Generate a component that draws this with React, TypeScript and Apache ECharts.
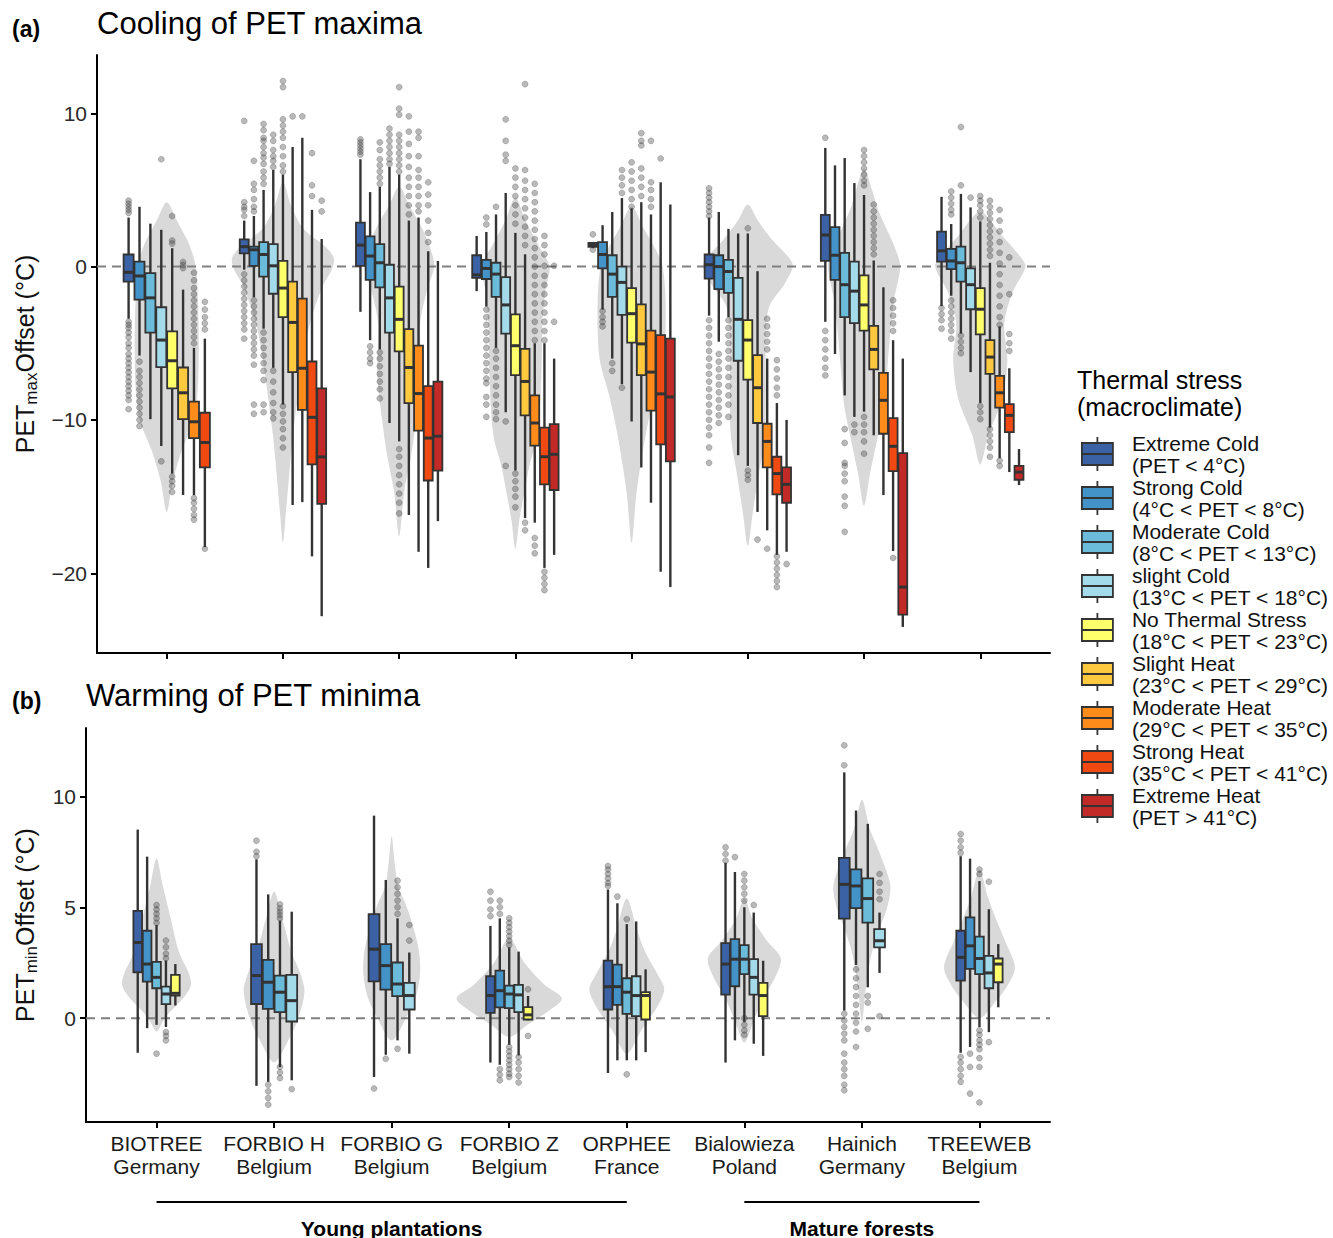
import React, { useEffect, useRef } from 'react';
import * as echarts from 'echarts';

const FONT = 'Liberation Sans, Arial, Helvetica, sans-serif';

const SITES = ['BIOTREE', 'FORBIO H', 'FORBIO G', 'FORBIO Z', 'ORPHEE', 'Bialowieza', 'Hainich', 'TREEWEB'];
const COUNTRIES = ['Germany', 'Belgium', 'Belgium', 'Belgium', 'France', 'Poland', 'Germany', 'Belgium'];
const CLASSES = ['Extreme Cold', 'Strong Cold', 'Moderate Cold', 'slight Cold', 'No Thermal Stress', 'Slight Heat', 'Moderate Heat', 'Strong Heat', 'Extreme Heat'];
const CLASS_RANGES = ['(PET < 4°C)', '(4°C < PET < 8°C)', '(8°C < PET < 13°C)', '(13°C < PET < 18°C)', '(18°C < PET < 23°C)', '(23°C < PET < 29°C)', '(29°C < PET < 35°C)', '(35°C < PET < 41°C)', '(PET > 41°C)'];
const CLASS_COLORS = ['#3a62a5', '#4393c8', '#6bbcda', '#a3dbea', '#ffff6b', '#fec93f', '#ff8b1a', '#f04912', '#c22a27'];
const Y_TICKS_A = [-20, -10, 0, 10];
const Y_TICKS_B = [0, 5, 10];
const X_TICKS = [0, 1, 2, 3, 4, 5, 6, 7];

// ---- Panel (a): PET max offset, box stats [whiskerLow, Q1, median, Q3, whiskerHigh] per class ----
const maxBIOTREE = [[-3.4, -0.98, -0.37, 0.79, 3.2], [-5.8, -2.16, -0.61, 0.32, 3.9], [-9.95, -4.3, -2.04, -0.42, 2.8], [-11.7, -6.56, -4.79, -2.65, 2.4], [-13.5, -7.94, -6.14, -4.23, 1.2], [-14.9, -9.95, -8.23, -6.58, -1.5], [-14.9, -11.18, -10.12, -8.8, -5.3], [-18.3, -13.1, -11.47, -9.53, -4.7], null];
const maxFORBIOH = [[-0.2, 0.86, 1.3, 1.77, 3.0], [-2.0, 0.05, 1.1, 1.3, 3.3], [-4.05, -0.66, 0.79, 1.6, 5.0], [-6.6, -1.77, 0.05, 1.47, 6.3], [-9.0, -3.3, -1.4, 0.37, 6.0], [-15.55, -6.88, -3.64, -0.98, 7.8], [-15.36, -9.34, -6.63, -2.09, 8.4], [-18.9, -12.9, -9.83, -6.19, 3.7], [-22.8, -15.48, -12.41, -7.94, 1.8]];
const maxFORBIOG = [[-2.95, 0.05, 1.4, 2.87, 7.0], [-4.8, -0.86, 0.69, 1.97, 4.86], [-5.4, -1.35, 0.25, 1.47, 5.2], [-10.2, -4.3, -2.04, 0.12, 6.5], [-11.4, -5.53, -3.44, -1.3, 6.0], [-16.2, -8.9, -6.58, -4.08, 3.0], [-18.6, -10.7, -8.28, -5.16, 3.2], [-19.65, -13.95, -11.18, -7.79, 1.0], [-16.6, -13.3, -11.06, -7.5, 0.37]];
const maxFORBIOZ = [[-1.6, -0.74, -0.54, 0.74, 2.0], [-2.6, -0.81, -0.12, 0.44, 2.26], [-5.3, -1.97, -0.49, 0.25, 3.4], [-9.5, -4.37, -2.5, -0.69, 4.8], [-13.3, -7.08, -5.16, -3.12, 2.2], [-16.4, -9.7, -7.49, -5.36, 0.8], [-16.7, -11.67, -10.2, -8.4, -5.0], [-19.65, -14.2, -12.4, -10.5, -5.0], [-18.8, -14.57, -12.24, -10.27, -6.0]];
const maxORPHEE = [[1.2, 1.28, 1.4, 1.55, 1.6], [-2.8, -0.12, 0.79, 1.6, 2.7], [-6.0, -1.97, -0.49, 0.74, 3.56], [-7.67, -3.15, -1.03, 0.0, 4.47], [-10.1, -4.96, -3.07, -1.4, 3.8], [-13.1, -7.08, -5.04, -2.46, 4.2], [-15.4, -9.39, -6.88, -4.18, 3.4], [-19.9, -11.6, -8.3, -4.47, 5.5], [-20.9, -12.7, -8.5, -4.7, 4.05]];
const maxBIALOWIEZA = [[-3.2, -0.79, 0.12, 0.79, 3.2], [-4.9, -1.47, 0.0, 0.74, 3.56], [-3.3, -1.72, -0.32, 0.44, 2.46], [-12.3, -6.14, -3.44, -0.74, 2.16], [-13.0, -7.37, -4.79, -3.49, 2.16], [-16.0, -10.2, -7.9, -5.77, -0.3], [-17.2, -13.1, -11.4, -10.25, -6.0], [-18.8, -14.86, -13.5, -12.4, -8.9], [-18.6, -15.4, -14.2, -13.1, -10.0]];
const maxHAINICH = [[-3.6, 0.37, 2.06, 3.37, 7.74], [-5.7, -0.86, 0.74, 2.58, 6.6], [-8.4, -3.3, -1.18, 0.9, 7.08], [-9.8, -3.69, -1.6, 0.32, 5.45], [-9.46, -4.18, -2.5, -0.57, 4.67], [-11.0, -6.7, -5.4, -3.86, 0.4], [-14.9, -10.9, -8.72, -6.93, -1.35], [-18.55, -13.34, -11.72, -9.88, -4.8], [-23.5, -22.7, -20.9, -12.16, -6.0]];
const maxTREEWEB = [[-2.58, 0.32, 1.03, 2.28, 4.55], [-1.9, -0.17, 0.37, 1.15, 2.78], [-4.37, -0.98, 0.25, 1.3, 4.74], [-6.88, -2.78, -1.18, -0.12, 3.86], [-8.9, -4.42, -2.78, -1.4, 2.95], [-10.5, -7.0, -5.9, -4.79, 0.25], [-12.5, -9.2, -8.23, -7.13, -3.9], [-13.4, -10.8, -9.7, -8.97, -6.63], [-14.25, -13.9, -13.4, -13.0, -11.9]];

// outliers per class
const maxOutBIOTREE = [[4.3, 4.1, 3.9, 3.7, 3.5, -3.6, -3.8, -4.0, -4.3, -4.6, -5.0, -5.3, -5.7, -6.0, -6.3, -6.6, -6.9, -7.2, -7.5, -7.8, -8.1, -8.4, -8.7, -9.3], [-6.2, -6.8, -7.2, -7.6, -8.0, -8.4, -8.8, -9.2, -9.6, -10.0, -10.4], [], [7.0, -12.7], [3.3, 1.7, 1.5, -13.7, -14.0, -14.3, -14.7], [0.3, 0.1, -0.1], [-0.4, -0.9, -1.4, -1.8, -2.2, -2.6, -3.0, -3.4, -3.8, -4.2, -4.6, -5.0, -15.1, -15.4, -15.8, -16.2, -16.5], [-2.3, -2.8, -3.3, -3.7, -4.1, -18.4], []];
const maxOutFORBIOH = [[9.5, 4.2, 3.9, 3.7, 3.3, -0.5, -0.9, -1.3, -1.7, -2.1, -2.5, -2.9, -3.3, -3.7, -4.1, -4.7], [6.9, 5.4, 5.0, 4.4, 3.9, 3.6, -2.2, -2.6, -3.0, -3.4, -3.8, -4.2, -4.6, -5.0, -5.4, -5.8, -6.4, -9.0, -9.6], [9.3, 8.9, 8.4, 8.2, 7.8, 7.4, 7.1, 6.7, 6.2, 5.8, 5.4, -4.3, -4.8, -5.3, -5.8, -6.3, -6.8, -7.4, -9.0, -9.5], [8.6, 8.2, 7.6, 7.2, 6.9, 6.5, -6.8, -7.5, -8.2, -8.9, -9.5, -9.9], [12.1, 11.7, 9.6, 9.2, 8.8, 8.4, 7.8, 7.2, 6.6, 6.2, -9.1, -9.6, -10.1, -10.6, -11.2, -11.8], [9.8], [9.8], [7.4, 5.3, 4.6], [4.3, 3.6]];
const maxOutFORBIOG = [[8.3, 8.1, 7.9, 7.7, 7.5, 7.3], [-5.2, -5.6, -6.0, -6.3], [8.1, 7.6, 7.0, 6.6, 6.2, 5.8, 5.4, -5.6, -6.0, -6.5, -7.0, -7.5, -8.0, -8.6], [9.0, 8.6, 8.2, 7.8, 7.4, 7.0, 6.7], [11.7, 10.3, 9.9, 8.6, 8.2, 7.8, 7.4, 7.0, 6.6, 6.2, -11.9, -12.4, -13.0, -13.6, -14.2, -14.8, -15.4, -16.1], [9.8, 8.8, 8.0, 7.2, 6.5, 5.8, 5.2, 4.6, 4.0, 3.4], [8.8, 8.4, 7.2, 6.3, 5.8, 5.2, 4.6, 4.0, 3.6], [5.5, 4.7, 4.0, 3.0, 2.2, 1.6], []];
const maxOutFORBIOZ = [[], [3.2, 2.75, -2.8, -3.3, -3.8, -4.3, -4.8, -5.3, -5.8, -6.3, -6.8, -7.3, -7.6, -8.5, -9.0, -9.8], [3.9, -5.5, -6.0, -6.6, -7.2, -7.8, -8.4, -9.0, -9.5, -9.95], [9.6, 8.2, 7.3, 6.9, -10.1, -13.0], [6.4, 5.8, 5.2, 4.6, 4.0, 3.4, 2.8, -13.5, -14.0, -14.5, -15.0, -15.7], [11.9, 6.3, 5.6, 5.0, 4.4, 3.8, 3.2, 2.6, 2.0, 1.4, -16.7, -17.2], [5.4, 4.8, 4.2, 3.6, 3.0, 2.4, 1.8, 1.2, 0.6, 0.0, -0.6, -1.2, -1.8, -2.4, -3.0, -3.6, -4.2, -4.8, -17.7, -18.2, -18.7], [2.0, 1.4, 0.8, 0.05, -0.6, -1.2, -1.8, -2.4, -3.0, -3.6, -4.2, -4.8, -19.9, -20.3, -20.7, -21.1], [0.05, -3.6]];
const maxOutORPHEE = [[2.1, 1.1], [-2.9, -3.3, -3.6, -3.9], [-6.3, -6.8], [6.3, 5.8, 5.3, 4.8, -7.9], [6.8, 6.2, 5.6, 5.0, 4.4, 3.9], [8.7, 8.2, 7.9, 6.4, 5.8, 5.2, 4.6], [8.2, 5.5, 5.0, 4.4, 3.9], [7.05], []];
const maxOutBIALOWIEZA = [[5.1, 4.8, 4.5, 4.2, 3.9, 3.6, 3.3, -3.5, -4.0, -4.5, -5.0, -5.5, -6.0, -6.5, -7.0, -7.5, -8.0, -8.5, -9.0, -9.5, -10.0, -10.5, -11.0, -11.8, -12.8], [-5.7, -6.2, -6.7, -7.2, -7.7, -8.2, -8.7, -9.2, -9.7, -10.2], [-3.5, -4.0, -4.5, -5.0, -5.5, -6.0, -6.6, -7.2, -7.8, -8.4, -9.0, -9.8], [], [2.5, -13.3, -13.6, -13.9], [-17.8], [-3.4, -3.9, -4.4, -4.9, -5.4, -18.4], [-6.1, -6.7, -7.3, -7.9, -8.4, -18.9, -19.3, -19.7, -20.1, -20.5, -20.9], [-19.4]];
const maxOutHAINICH = [[8.4, -4.2, -4.8, -5.4, -6.0, -6.6, -7.1], [], [-10.6, -11.5, -12.8, -13.0, -13.5, -14.0, -15.0, -15.6, -17.3], [-10.3, -10.8], [7.6, 7.2, 6.8, 6.4, 6.0, 5.6, 5.3, -9.8, -10.3, -10.8, -11.4, -12.2], [4.05, 3.6, 3.2, 2.8, 2.4, 2.0, 1.6, 1.2, 0.8], [], [-2.2, -2.7, -3.2, -3.7, -4.2, -19.0], []];
const maxOutTREEWEB = [[-2.7, -3.1, -3.5, -4.05], [4.9, 4.5, 4.1, 3.7, 3.4, -2.2, -2.6, -3.0, -3.4, -3.8, -4.2, -4.7], [9.1, 5.3, -4.5, -4.9, -5.3, -5.65], [4.5], [4.6, 4.3, 4.0, 3.6, 3.2, -9.1, -9.5, -9.95], [4.3, 3.9, 3.5, 3.1, 2.7, 2.3, 1.9, 1.5, 1.1, 0.7, -10.6, -11.0, -11.4, -11.8, -12.4], [3.7, 3.0, 2.3, 1.6, 0.9, 0.2, -0.5, -1.2, -1.9, -2.6, -3.3, -3.8, -12.65, -13.0], [0.6, -1.8, -4.4, -5.0, -5.5], []];

// violin outline: [value, density half-width]
const maxViolinBIOTREE = [[4.2, 0], [3, 10], [1.5, 22], [0, 29], [-2, 31], [-5, 32], [-8, 31], [-10, 27], [-12, 15], [-14, 6], [-16, 0]];
const maxViolinFORBIOH = [[5.5, 0], [4, 8], [2.5, 20], [1.2, 44], [0.5, 51], [-0.3, 48], [-1.2, 40], [-3.7, 27], [-6.1, 20], [-11, 10], [-16, 3], [-18, 0]];
const maxViolinFORBIOG = [[5.2, 0], [4, 10], [2.5, 23], [1, 32], [0, 35], [-1.5, 28], [-3.7, 21], [-7, 22], [-10, 17], [-12.3, 12], [-14.7, 5], [-17.6, 0]];
const maxViolinFORBIOZ = [[4.5, 0], [3, 10], [1.5, 22], [0, 34], [-1.5, 30], [-3.7, 27], [-7, 26], [-11, 22], [-13, 14], [-14.7, 9], [-16.5, 4], [-18.4, 0]];
const maxViolinORPHEE = [[3.9, 0], [2.5, 12], [1, 25], [0, 31], [-2.5, 34], [-6, 32], [-8.5, 22], [-11, 14], [-14.7, 5], [-18, 0]];
const maxViolinBIALOWIEZA = [[4.05, 0], [3, 10], [1.7, 25], [0.5, 42], [0, 45], [-1.2, 36], [-2.5, 22], [-4, 18], [-8, 18], [-11, 17], [-13.5, 11], [-16, 5], [-18.2, 0]];
const maxViolinHAINICH = [[6.4, 0], [5, 8], [3.7, 14], [1.2, 31], [0, 36], [-2.5, 29], [-6, 24], [-9, 20], [-11, 14], [-13.5, 6], [-15.6, 0]];
const maxViolinTREEWEB = [[3.56, 0], [2, 22], [0.8, 38], [0, 45], [-1.7, 32], [-3.7, 24], [-6.1, 27], [-8.6, 22], [-11, 8], [-12.9, 0]];

// ---- Panel (b): PET min offset ----
const minBIOTREE = [[-1.56, 2.07, 3.41, 4.84, 8.5], [-0.45, 1.65, 2.44, 3.94, 7.28], [-0.3, 1.35, 1.84, 2.54, 4.2], [-0.4, 0.63, 1.09, 1.42, 2.6], [0.57, 1.02, 1.12, 1.95, 2.44], null, null, null, null];
const minFORBIOH = [[-3.05, 0.64, 1.92, 3.34, 7.16], [-2.87, 0.42, 1.62, 2.63, 5.58], [-2.2, 0.27, 1.17, 1.92, 4.4], [-2.8, -0.15, 0.79, 1.95, 4.8], null, null, null, null, null];
const minFORBIOG = [[-2.65, 1.66, 3.11, 4.69, 9.13], [-1.65, 1.29, 2.37, 3.34, 6.23], [-1.0, 0.99, 1.54, 2.51, 4.5], [-1.6, 0.39, 1.02, 1.59, 2.96], null, null, null, null, null];
const minFORBIOZ = [[-2.0, 0.24, 1.02, 1.89, 4.16], [-2.1, 0.49, 1.24, 2.14, 4.5], [-1.2, 0.45, 1.09, 1.47, 3.2], [-1.68, 0.27, 1.05, 1.5, 3.0], [-0.1, -0.06, 0.15, 0.5, 1.0], null, null, null, null];
const minORPHEE = [[-2.47, 0.39, 1.42, 2.59, 5.8], [-1.9, 0.6, 1.42, 2.41, 5.18], [-1.9, 0.19, 1.17, 1.8, 4.24], [-1.9, 0.09, 1.02, 1.89, 4.36], [-1.53, -0.06, 1.02, 1.17, 2.2], null, null, null, null];
const minBIALOWIEZA = [[-2.0, 1.06, 2.44, 3.38, 7.0], [-1.0, 1.44, 2.66, 3.56, 6.59], [-0.18, 1.99, 2.66, 3.29, 5.0], [-1.15, 1.06, 1.84, 2.66, 4.76], [-1.7, 0.09, 1.02, 1.59, 2.59], null, null, null, null];
const minHAINICH = [[0.34, 4.49, 6.03, 7.23, 11.08], [2.4, 4.96, 5.96, 6.71, 9.36], [1.39, 4.31, 5.39, 6.3, 8.76], [2.04, 3.19, 3.49, 4.01, 4.76], null, null, null, null, null];
const minTREEWEB = [[-1.56, 1.69, 2.74, 3.94, 7.3], [-1.3, 2.22, 3.26, 4.54, 7.19], [-0.4, 1.99, 2.69, 3.68, 6.18], [-0.63, 1.35, 2.04, 2.81, 4.91], [0.49, 1.62, 2.44, 2.69, 3.34], null, null, null, null];

const minOutBIOTREE = [[], [], [5.1, 4.9, 4.7, 4.5, 4.3, -1.6], [3.5, 3.2, 2.9, 2.7, -0.63, -0.8, -1.0], []];
const minOutFORBIOH = [[8.0, 7.5, 7.3], [-3.0, -3.3, -3.6, -3.9], [5.13, 4.95, 4.8, 4.65, 4.5, -2.2, -2.45, -2.7], [-3.2]];
const minOutFORBIOG = [[-3.17], [-1.83], [6.2, 5.9, 5.6, 5.3, 5.0, 4.7, -1.38], [4.2, 3.5]];
const minOutFORBIOZ = [[5.7, 5.3, 4.9, 4.6], [5.3, 5.0, 4.7, -2.3, -2.55, -2.8], [4.5, 4.3, 4.1, 3.9, 3.7, 3.5, 3.3, -1.3, -1.5, -1.7, -1.9, -2.1, -2.3, -2.5, -2.65], [-1.75, -2.0, -2.3, -2.6, -2.9], [1.3, -0.8]];
const minOutORPHEE = [[6.86, 6.7, 6.5, 6.3, 6.1, 5.96], [5.48], [4.46, -2.53], [], []];
const minOutBIALOWIEZA = [[7.7, 7.4, 7.1], [7.26], [6.5, 6.2, 5.9, 5.6, 5.3, 0.0, -0.3, -0.55, -0.75], [5.1], []];
const minOutHAINICH = [[12.3, 11.4, 0.2, -0.1, -0.4, -0.7, -1.0, -1.6, -2.0, -2.3, -2.6, -3.0, -3.25], [2.2, 1.8, 1.4, 1.0, 0.6, 0.2, -0.2, -0.6, -1.3], [1.0, 0.7, -0.48], [6.5, 6.1, 5.7, 5.36, 0.09]];
const minOutTREEWEB = [[8.3, 8.0, 7.7, 7.45, -1.75, -2.0, -2.3, -2.6, -2.87], [-1.6, -2.2, -3.4], [6.7, 6.5, -0.55, -0.75, -1.0, -1.2, -1.4, -1.8, -2.2, -3.8], [6.15, -1.08], []];

const minViolinBIOTREE = [[7.2, 0], [6, 6], [4.5, 14], [3, 22], [2, 32], [1.5, 34], [1, 28], [0.5, 18], [0, 8], [-0.6, 0]];
const minViolinFORBIOH = [[5.7, 0], [4.5, 8], [3, 17], [2, 26], [1.2, 30], [0, 24], [-1, 14], [-2, 0]];
const minViolinFORBIOG = [[8.2, 0], [7, 3], [6, 6], [5, 15], [4, 22], [3, 27], [2, 28], [1, 24], [0, 14], [-1, 0]];
const minViolinFORBIOZ = [[3.6, 0], [2.5, 15], [1.5, 35], [0.9, 52], [0.3, 38], [-0.3, 18], [-0.85, 0]];
const minViolinORPHEE = [[5.4, 0], [4, 10], [3, 18], [2, 30], [1.3, 37], [0.5, 30], [-0.5, 15], [-1.6, 0]];
const minViolinBIALOWIEZA = [[5.4, 0], [4.5, 8], [3.5, 22], [2.7, 36], [1.8, 30], [1, 20], [0, 10], [-1.1, 0]];
const minViolinHAINICH = [[9.85, 0], [8.5, 8], [7.5, 17], [6, 28], [5, 25], [4, 17], [3, 10], [2, 6], [1, 3], [-0.2, 0]];
const minViolinTREEWEB = [[6.7, 0], [5.5, 8], [4.5, 16], [3.5, 25], [2.3, 35], [1.5, 28], [0.7, 15], [0, 0]];

const MAX_STATS = [maxBIOTREE, maxFORBIOH, maxFORBIOG, maxFORBIOZ, maxORPHEE, maxBIALOWIEZA, maxHAINICH, maxTREEWEB];
const MAX_OUT = [maxOutBIOTREE, maxOutFORBIOH, maxOutFORBIOG, maxOutFORBIOZ, maxOutORPHEE, maxOutBIALOWIEZA, maxOutHAINICH, maxOutTREEWEB];
const MAX_VIOLIN = [maxViolinBIOTREE, maxViolinFORBIOH, maxViolinFORBIOG, maxViolinFORBIOZ, maxViolinORPHEE, maxViolinBIALOWIEZA, maxViolinHAINICH, maxViolinTREEWEB];
const MIN_STATS = [minBIOTREE, minFORBIOH, minFORBIOG, minFORBIOZ, minORPHEE, minBIALOWIEZA, minHAINICH, minTREEWEB];
const MIN_OUT = [minOutBIOTREE, minOutFORBIOH, minOutFORBIOG, minOutFORBIOZ, minOutORPHEE, minOutBIALOWIEZA, minOutHAINICH, minOutTREEWEB];
const MIN_VIOLIN = [minViolinBIOTREE, minViolinFORBIOH, minViolinFORBIOG, minViolinFORBIOZ, minViolinORPHEE, minViolinBIALOWIEZA, minViolinHAINICH, minViolinTREEWEB];

const VIOLIN_SCALE = 1 / 116;
const LINE_COLOR = '#333333';
const LEGEND_ICON = 'path://M0,6L31,6L31,28L0,28Z M0,17L31,17 M15.5,0L15.5,6 M15.5,28L15.5,34';

const fmtMinus = (v: number) => (v < 0 ? '\u2212' + Math.abs(v) : String(v));

function boxRender(color: string) {
  return (params: any, api: any) => {
    const x = api.value(0);
    const wl = api.value(1), q1 = api.value(2), med = api.value(3), q3 = api.value(4), wh = api.value(5), w = api.value(6);
    const pTop = api.coord([x, wh]);
    const pQ3 = api.coord([x, q3]);
    const pQ1 = api.coord([x, q1]);
    const pLow = api.coord([x, wl]);
    const pMed = api.coord([x, med]);
    const left = api.coord([x - w / 2, med])[0];
    const right = api.coord([x + w / 2, med])[0];
    return {
      type: 'group',
      children: [
        { type: 'line', shape: { x1: pTop[0], y1: pTop[1], x2: pQ3[0], y2: pQ3[1] }, style: { stroke: LINE_COLOR, lineWidth: 2.4 } },
        { type: 'line', shape: { x1: pQ1[0], y1: pQ1[1], x2: pLow[0], y2: pLow[1] }, style: { stroke: LINE_COLOR, lineWidth: 2.4 } },
        { type: 'rect', shape: { x: left, y: pQ3[1], width: right - left, height: Math.max(pQ1[1] - pQ3[1], 1) }, style: { fill: color, stroke: LINE_COLOR, lineWidth: 1.8 } },
        { type: 'line', shape: { x1: left, y1: pMed[1], x2: right, y2: pMed[1] }, style: { stroke: LINE_COLOR, lineWidth: 3 } },
      ],
    };
  };
}

function violinRender(profiles: number[][][]) {
  return (params: any, api: any) => {
    const s = api.value(0);
    const prof = profiles[s];
    const right = prof.map(([y, d]) => api.coord([s + d * VIOLIN_SCALE, y]));
    const left = prof.slice(1, -1).reverse().map(([y, d]) => api.coord([s - d * VIOLIN_SCALE, y]));
    return { type: 'polygon', shape: { points: right.concat(left), smooth: 0.3 }, style: { fill: '#d9d9d9' } };
  };
}

function buildPanel(stats: any[], outliers: number[][][], violins: number[][][], dodge: number, axisIdx: number) {
  const boxData: number[][][] = CLASSES.map(() => []);
  const outData: number[][] = [];
  stats.forEach((siteStats: any[], s: number) => {
    const present = siteStats.map((v, i) => (v ? i : -1)).filter((i) => i >= 0);
    const n = present.length;
    const step = dodge / n;
    present.forEach((ci, k) => {
      const x = s + (k - (n - 1) / 2) * step;
      const [wl, q1, med, q3, wh] = siteStats[ci];
      boxData[ci].push([x, wl, q1, med, q3, wh, step * 0.92]);
      (outliers[s][ci] || []).forEach((v) => outData.push([x, v]));
    });
  });
  const series: any[] = [];
  series.push({
    type: 'custom',
    xAxisIndex: axisIdx,
    yAxisIndex: axisIdx,
    silent: true,
    renderItem: violinRender(violins),
    data: violins.map((p, s) => [s, p[0][0], p[p.length - 1][0]]),
    encode: { x: 0, y: [1, 2] },
    z: 1,
  });
  series.push({
    type: 'line',
    xAxisIndex: axisIdx,
    yAxisIndex: axisIdx,
    silent: true,
    showSymbol: false,
    symbol: 'none',
    data: [[-0.6, 0], [7.6, 0]],
    lineStyle: { color: '#808080', width: 2, type: [9, 6] },
    z: 2,
  });
  series.push({
    type: 'scatter',
    xAxisIndex: axisIdx,
    yAxisIndex: axisIdx,
    silent: true,
    symbolSize: 6,
    data: outData,
    itemStyle: { color: 'rgba(60,60,60,0.45)', borderColor: 'rgba(40,40,40,0.35)', borderWidth: 0.8 },
    z: 3,
  });
  CLASSES.forEach((name, ci) => {
    if (boxData[ci].length === 0) return;
    series.push({
      type: 'custom',
      name,
      xAxisIndex: axisIdx,
      yAxisIndex: axisIdx,
      renderItem: boxRender(CLASS_COLORS[ci]),
      data: boxData[ci],
      encode: { x: 0, y: [1, 5] },
      itemStyle: { color: CLASS_COLORS[ci], borderColor: LINE_COLOR, borderWidth: 1.8 },
      z: 4,
    });
  });
  return series;
}

const axisLineStyle = { color: '#000', width: 2 };

function yAxisName(sub: string) {
  return '{m|PET}{s|' + sub + '}{m|Offset (°C)}';
}
const nameRich = {
  m: { fontSize: 25, lineHeight: 30, verticalAlign: 'middle', fontFamily: FONT, color: '#111' },
  s: { fontSize: 17, lineHeight: 21, verticalAlign: 'bottom', fontFamily: FONT, color: '#111' },
};

export default function App() {
  const ref = useRef<HTMLDivElement>(null);
  useEffect(() => {
    document.body.style.margin = '0';
    const chart = echarts.init(ref.current!, null, { renderer: 'svg' });
    const series = [
      ...buildPanel(MAX_STATS, MAX_OUT, MAX_VIOLIN, 0.75, 0),
      ...buildPanel(MIN_STATS, MIN_OUT, MIN_VIOLIN, 0.4, 1),
    ];
    const option: any = {
      animation: false,
      textStyle: { fontFamily: FONT },
      title: [
        { text: '(a)', left: 12, top: 17, padding: 0, textStyle: { fontSize: 23, fontWeight: 'bold', color: '#000', fontFamily: FONT } },
        { text: 'Cooling of PET maxima', left: 97, top: 8, padding: 0, textStyle: { fontSize: 31, fontWeight: 'normal', color: '#000', fontFamily: FONT } },
        { text: '(b)', left: 12, top: 689, padding: 0, textStyle: { fontSize: 23, fontWeight: 'bold', color: '#000', fontFamily: FONT } },
        { text: 'Warming of PET minima', left: 86, top: 680, padding: 0, textStyle: { fontSize: 31, fontWeight: 'normal', color: '#000', fontFamily: FONT } },
        { text: 'Thermal stress\n(macroclimate)', left: 1077, top: 366, padding: 0, textStyle: { fontSize: 25, lineHeight: 27, fontWeight: 'normal', color: '#000', fontFamily: FONT } },
      ],
      legend: {
        orient: 'vertical',
        left: 1081,
        top: 432,
        padding: 0,
        itemGap: 0,
        itemWidth: 31,
        itemHeight: 34,
        selectedMode: false,
        data: CLASSES.map((c, i) => ({
          name: c,
          icon: LEGEND_ICON,
          itemStyle: { color: CLASS_COLORS[i], borderColor: LINE_COLOR, borderWidth: 1.8 },
        })),
        formatter: (name: string) => name + '\n' + CLASS_RANGES[CLASSES.indexOf(name)],
        textStyle: { fontSize: 21, lineHeight: 22, color: '#111', fontFamily: FONT, padding: [0, 0, 0, 14] },
      },
      grid: [
        { left: 97, right: 283, top: 55, bottom: 585 },
        { left: 86, right: 283, top: 728, bottom: 116 },
      ],
      xAxis: [
        {
          gridIndex: 0, type: 'value', min: -0.6, max: 7.6,
          axisLine: { show: true, onZero: false, lineStyle: axisLineStyle },
          axisTick: { show: true, customValues: X_TICKS, length: 6, lineStyle: axisLineStyle },
          axisLabel: { show: false },
          splitLine: { show: false },
        },
        {
          gridIndex: 1, type: 'value', min: -0.6, max: 7.6,
          axisLine: { show: true, onZero: false, lineStyle: axisLineStyle },
          axisTick: { show: true, customValues: X_TICKS, length: 6, lineStyle: axisLineStyle },
          axisLabel: {
            show: true, customValues: X_TICKS, margin: 10, fontSize: 21, lineHeight: 23, color: '#1a1a1a', fontFamily: FONT,
            formatter: (v: number) => SITES[v] + '\n' + COUNTRIES[v],
          },
          splitLine: { show: false },
        },
      ],
      yAxis: [
        {
          gridIndex: 0, type: 'value', min: -25.2, max: 13.8,
          axisLine: { show: true, onZero: false, lineStyle: axisLineStyle },
          axisTick: { show: true, customValues: Y_TICKS_A, length: 6, lineStyle: axisLineStyle },
          axisLabel: { show: true, customValues: Y_TICKS_A, formatter: fmtMinus, fontSize: 21, color: '#2a2a2a', margin: 10, fontFamily: FONT },
          splitLine: { show: false },
          name: yAxisName('max'), nameLocation: 'middle', nameGap: 57, nameTextStyle: { rich: nameRich },
        },
        {
          gridIndex: 1, type: 'value', min: -4.68, max: 13.08,
          axisLine: { show: true, onZero: false, lineStyle: axisLineStyle },
          axisTick: { show: true, customValues: Y_TICKS_B, length: 6, lineStyle: axisLineStyle },
          axisLabel: { show: true, customValues: Y_TICKS_B, formatter: fmtMinus, fontSize: 21, color: '#2a2a2a', margin: 10, fontFamily: FONT },
          splitLine: { show: false },
          name: yAxisName('min'), nameLocation: 'middle', nameGap: 46, nameTextStyle: { rich: nameRich },
        },
      ],
      series,
    };
    chart.setOption(option);

    const px = (v: number) => chart.convertToPixel({ xAxisIndex: 1 }, v) as number;
    const groups = [
      { label: 'Young plantations', from: 0, to: 4 },
      { label: 'Mature forests', from: 5, to: 7 },
    ];
    const graphic: any[] = [];
    groups.forEach((g) => {
      const x1 = px(g.from), x2 = px(g.to);
      graphic.push({ type: 'line', shape: { x1, y1: 1202, x2, y2: 1202 }, style: { stroke: '#000', lineWidth: 2 } });
      graphic.push({
        type: 'text', x: (x1 + x2) / 2, y: 1228,
        style: { text: g.label, align: 'center', verticalAlign: 'middle', font: 'bold 21px ' + FONT, fill: '#000' },
      });
    });
    chart.setOption({ graphic });

    return () => chart.dispose();
  }, []);
  return <div ref={ref} style={{ position: 'absolute', left: 0, top: 0, width: 1333, height: 1238 }} />;
}
